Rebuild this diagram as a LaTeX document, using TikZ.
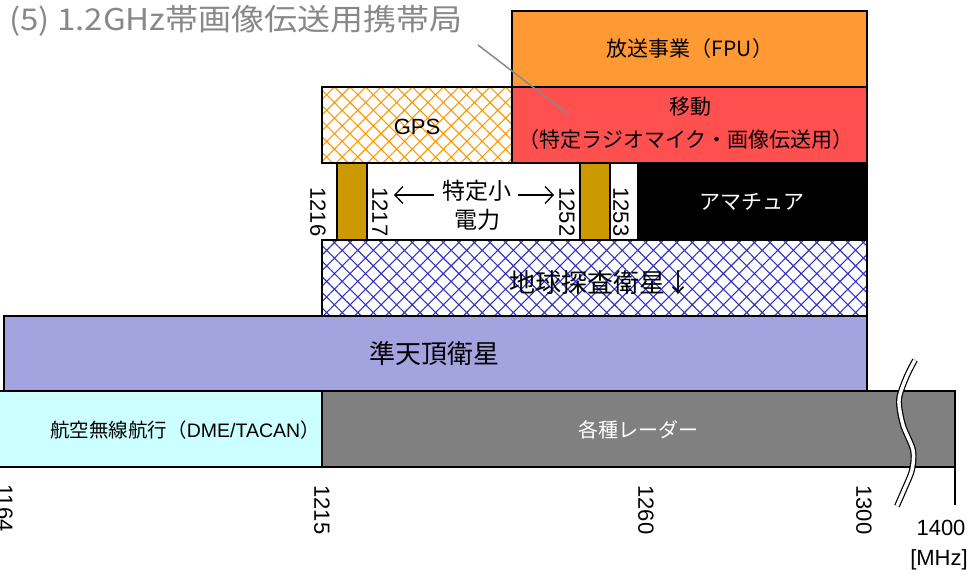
\documentclass[tikz,border=0pt]{standalone}
\usepackage{fontspec}
\setmainfont{Liberation Sans}
\newfontfamily\jp{Noto Sans CJK JP}
\usetikzlibrary{patterns.meta,arrows.meta}
\definecolor{fpuC}{HTML}{FF9933}
\definecolor{mobC}{HTML}{FF5050}
\definecolor{goldC}{HTML}{CC9900}
\definecolor{qzsC}{HTML}{A3A3DF}
\definecolor{cyanC}{HTML}{CCFFFF}
\definecolor{radC}{HTML}{808080}
\definecolor{titleC}{HTML}{888888}
\definecolor{gpsC}{HTML}{FF9900}
\definecolor{eesC}{HTML}{3333CC}
\newcommand\fsz[1]{\fontsize{#1bp}{#1bp}\selectfont}
\tikzset{
  band/.style={draw=black, line width=1.6bp},
  lbl/.style={inner sep=0pt, align=center},
  num/.style={inner sep=0pt, rotate=-90, font=\fsz{22}},
  arr/.style={line width=1.3bp, -{Straight Barb[length=8bp,width=17bp]}},
  diam/.style={pattern={Hatch[angle=45,distance=11bp,line width=1.1bp]}},
}
\begin{document}
\begin{tikzpicture}[x=1bp,y=-1bp]
\useasboundingbox (0,0) rectangle (979,577);
% top row
\draw[band, fill=fpuC] (512,11) rectangle (867,87);
\node[lbl, font=\jp\fsz{21}] (fpu) at (690,49) {放送事業（FPU）};
% second row
\draw[band, fill=mobC] (512,87) rectangle (867,163);
\node[lbl, font=\jp\fsz{21}] (mob1) at (690,107) {移動};
\node[lbl, font=\jp\fsz{21}] (mob2) at (686,140) {（特定ラジオマイク・画像伝送用）};
\fill[white] (322,87) rectangle (512,163);
\fill[diam, pattern color=gpsC] (322,87) rectangle (512,163);
\draw[band] (322,87) rectangle (512,163);
\node[lbl, font=\fsz{22}] (gps) at (417,127) {GPS};
% third row
\draw[band, fill=white] (337,163) rectangle (638,240);
\draw[band, fill=goldC] (337,163) rectangle (367,240);
\draw[band, fill=goldC] (580,163) rectangle (610,240);
\draw[band, fill=black] (638,163) rectangle (867,240);
\node[lbl, font=\jp\fsz{21}, text=white] (ama) at (752,202) {アマチュア};
\node[num] (n1216) at (318,212) {1216};
\node[num] (n1217) at (380,212) {1217};
\node[num] (n1252) at (567,212) {1252};
\node[num] (n1253) at (621,212) {1253};
\node[lbl, font=\jp\fsz{23}] (tk1) at (477,191) {特定小};
\node[lbl, font=\jp\fsz{23}] (tk2) at (477,220) {電力};
\coordinate (la) at (394,195);
\coordinate (ra) at (554,195);
\draw[arr] ([xshift=-8bp]tk1.west |- la) -- (la);
\draw[arr] ([xshift=6bp]tk1.east |- ra) -- (ra);
% fourth row
\fill[white] (322,240) rectangle (867,316);
\fill[diam, pattern color=eesC] (322,240) rectangle (867,316);
\draw[band] (322,240) rectangle (867,316);
\node[lbl, font=\jp\fsz{26}] (ees) at (600,283) {地球探査衛星↓};
% fifth row
\draw[band, fill=qzsC] (4,316) rectangle (867,391);
\node[lbl, font=\jp\fsz{26}] (qzs) at (434,354) {準天頂衛星};
% bottom row
\draw[band, fill=cyanC] (-2,391) rectangle (322,467);
\draw[band, fill=radC] (322,391) rectangle (955,467);
\node[lbl, font=\fsz{19.5}, anchor=east] (dme) at (320,430) {{\jp 航空無線航行（}DME/TACAN{\jp ）}};
\node[lbl, font=\jp\fsz{20}, text=white] (rad) at (638,430) {各種レーダー};
% axis
\coordinate (t0) at (955,467);
\coordinate (t1) at (955,505);
\draw[line width=1.6bp] (t0) -- (t1);
\draw[line width=1.2bp, double=white, double distance=3.5bp]
  plot[smooth] coordinates {(915,360) (906,378) (899,400) (903,425) (913,450) (912,470) (904,490) (897,506)};
\node[num] (a1164) at (5,508) {1164};
\node[num] (a1215) at (322,510) {1215};
\node[num] (a1260) at (646,510) {1260};
\node[num] (a1300) at (864,510) {1300};
\node[lbl, font=\fsz{22}] (a1400) at (941,528) {1400};
\node[lbl, font=\fsz{22}] (mhz) at (939,560) {[MHz]};
% title and pointer
\node[lbl, anchor=west, font=\jp\fsz{30}, text=titleC] (title) at (9,21) {\scalebox{1.1}[1]{(5) 1.2GHz帯画像伝送用携帯局}};
\coordinate (ptr) at (568,114);
\draw[line width=1.5bp, draw=titleC] (478,45) -- (ptr);
\end{tikzpicture}
\end{document}
